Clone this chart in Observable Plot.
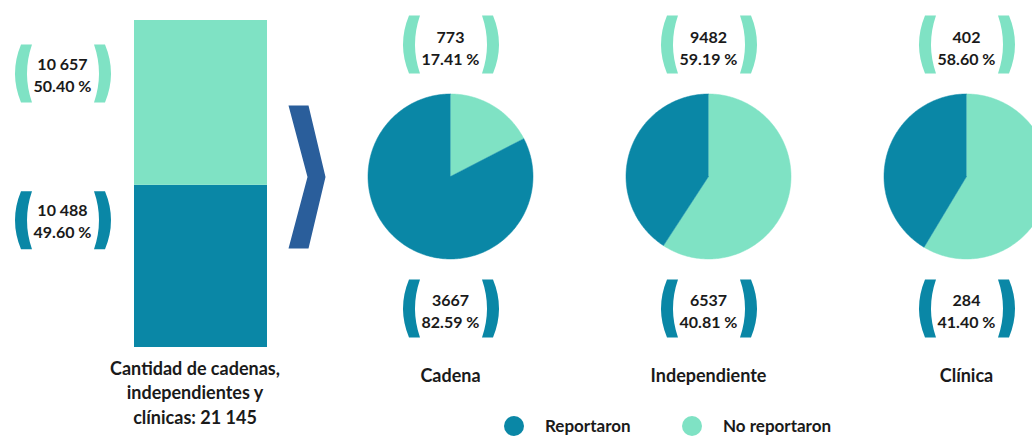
<!DOCTYPE html>
<html>
<head>
<meta charset="utf-8">
<script src="https://cdn.jsdelivr.net/npm/d3@7"></script>
<script src="https://cdn.jsdelivr.net/npm/@observablehq/plot@0.6"></script>
<style>
  html, body { margin: 0; padding: 0; background: #fff; }
  #chart { position: relative; width: 1032px; height: 436px; overflow: hidden; font-family: Lato, "Open Sans", sans-serif; }
  #bar, #pies, #legend { position: absolute; top: 0; }
  #bar { left: 0; width: 340px; }
  #pies { left: 321px; width: 774px; }
  #chart svg { max-width: none !important; }
  #legend { top: 415px; left: 0; width: 1032px; height: 21px; }
  .item { position: absolute; top: 0; height: 21px; display: flex; align-items: center; font-weight: 700; font-size: 17px; color: #1a1a1a; }
  .sw { width: 20px; height: 20px; border-radius: 50%; margin-right: 21px; }
</style>
</head>
<body>
<div id="chart">
  <div id="bar"></div>
  <div id="pies"></div>
  <div id="legend"></div>
</div>
<script>
// ---- data ----
const statuses = ["Reportaron", "No reportaron"];
const colors = ["#0A87A6", "#7FE2C4"];
const groups = ["Cadena", "Independiente", "Clínica"];
const reportaron = [3667, 6537, 284];
const noReportaron = [773, 9482, 402];
const pctReportaron = ["82.59 %", "40.81 %", "41.40 %"];
const pctNoReportaron = ["17.41 %", "59.19 %", "58.60 %"];
const totals = [10488, 10657];            // Reportaron, No reportaron
const totalLabels = ["10 488", "10 657"];
const totalPct = ["49.60 %", "50.40 %"];
const barTitle = "Cantidad de cadenas,\nindependientes y\nclínicas: 21 145";

// ---- layout / style constants ----
const FONT = "Lato, 'Open Sans', sans-serif";
const TEXT = "#1a1a1a";
const CHEVRON = "#2A5E9B";
const R = 82.5;            // pie radius (px)
const FACET_W = 258;       // facet width (px)
const BL = -39, BR = 40;   // bracket offsets from label centre

// custom symbols
const bracketL = { draw(ctx) {
  ctx.moveTo(-2.5, -29);
  ctx.quadraticCurveTo(-14.5, 0, -2.5, 29);
  ctx.lineTo(8.5, 29);
  ctx.quadraticCurveTo(-1.5, 0, 8.5, -29);
  ctx.closePath();
}};
const bracketR = { draw(ctx) {
  ctx.moveTo(2.5, -29);
  ctx.quadraticCurveTo(14.5, 0, 2.5, 29);
  ctx.lineTo(-8.5, 29);
  ctx.quadraticCurveTo(1.5, 0, -8.5, -29);
  ctx.closePath();
}};
const chevron = { draw(ctx) {
  ctx.moveTo(-18.5, -71.5);
  ctx.lineTo(1.5, -71.5);
  ctx.lineTo(18.5, 0);
  ctx.lineTo(1.5, 71.5);
  ctx.lineTo(-18.5, 71.5);
  ctx.lineTo(0.5, 0);
  ctx.closePath();
}};

const color = { domain: statuses, range: colors };
const total = d3.sum(totals);
const tops = d3.cumsum(totals);

// ---- stacked bar ----
const barRows = statuses.map((s, i) => ({
  cat: barTitle, status: s, value: totals[i], top: tops[i],
  label: totalLabels[i] + "\n" + totalPct[i]
}));
const labelDy = { "Reportaron": 35, "No reportaron": 53 };
const LABEL_DX = -138.5;

const barMarks = [
  Plot.barY(barRows, { x: "cat", y: "value", fill: "status" }),
  ...barRows.flatMap(r => [
    Plot.text([r], { x: "cat", y: "top", dx: LABEL_DX, dy: labelDy[r.status], text: "label",
      fill: TEXT, fontWeight: 700, fontSize: 16, lineHeight: 1.375 }),
    Plot.dot([r], { x: "cat", y: "top", dx: LABEL_DX + BL, dy: labelDy[r.status], symbol: bracketL, fill: "status", stroke: "none" }),
    Plot.dot([r], { x: "cat", y: "top", dx: LABEL_DX + BR, dy: labelDy[r.status], symbol: bracketR, fill: "status", stroke: "none" })
  ]),
  Plot.text([barTitle], { x: d => d, y: () => 0, dx: -6, dy: 10, lineAnchor: "top", text: d => d,
    fill: TEXT, fontWeight: 700, fontSize: 18, lineHeight: 1.36 }),
  Plot.dot([barTitle], { x: d => d, y: () => total / 2, dx: 106, dy: -7, symbol: chevron, fill: CHEVRON, stroke: "none" })
];

const barPlot = Plot.plot({
  width: 340, height: 436, margin: 0,
  style: { background: "transparent", fontFamily: FONT, overflow: "visible", maxWidth: "none" },
  x: { domain: [barTitle], range: [134, 267], padding: 0, axis: null },
  y: { domain: [0, total], range: [347, 20], axis: null },
  color,
  marks: barMarks
});
document.getElementById("bar").append(barPlot);

// ---- pies ----
const pieRows = [];
groups.forEach((g, gi) => {
  const vals = [
    { status: "No reportaron", value: noReportaron[gi] },
    { status: "Reportaron", value: reportaron[gi] }
  ];
  const arcs = d3.pie().sort(null).value(d => d.value)(vals);
  arcs.forEach(a => {
    const key = g + "|" + a.data.status;
    pieRows.push({ group: g, status: a.data.status, key, x: 0, y: 0 });
    const n = Math.max(2, Math.ceil((a.endAngle - a.startAngle) / (Math.PI / 180)));
    for (let k = 0; k <= n; k++) {
      const t = a.startAngle + (a.endAngle - a.startAngle) * k / n;
      pieRows.push({ group: g, status: a.data.status, key, x: Math.sin(t), y: Math.cos(t) });
    }
  });
});

const topRows = groups.map((g, i) => ({ group: g, status: "No reportaron", text: noReportaron[i] + "\n" + pctNoReportaron[i] }));
const botRows = groups.map((g, i) => ({ group: g, status: "Reportaron", text: reportaron[i] + "\n" + pctReportaron[i] }));
const catRows = groups.map(g => ({ group: g }));

const labelOpts = { fill: TEXT, fontWeight: 700, fontSize: 16, lineHeight: 1.375 };

const piePlot = Plot.plot({
  width: FACET_W * groups.length, height: 436, margin: 0,
  style: { background: "transparent", fontFamily: FONT, overflow: "visible", maxWidth: "none" },
  fx: { domain: groups, padding: 0, axis: null, label: null },
  x: { domain: [-FACET_W / 2 / R, FACET_W / 2 / R], axis: null },
  y: { domain: [-260 / R, 176 / R], axis: null },
  color,
  marks: [
    Plot.line(pieRows, { fx: "group", x: "x", y: "y", z: "key", fill: "status", stroke: "status", strokeWidth: 0.5, curve: "linear" }),
    // top labels (No reportaron)
    Plot.text(topRows, { fx: "group", x: () => 0, y: () => 1, dy: -47.5, text: "text", ...labelOpts }),
    Plot.dot(topRows, { fx: "group", x: () => 0, y: () => 1, dx: BL, dy: -49.5, symbol: bracketL, fill: "status", stroke: "none" }),
    Plot.dot(topRows, { fx: "group", x: () => 0, y: () => 1, dx: BR, dy: -49.5, symbol: bracketR, fill: "status", stroke: "none" }),
    // bottom labels (Reportaron)
    Plot.text(botRows, { fx: "group", x: () => 0, y: () => -1, dy: 50.5, text: "text", ...labelOpts }),
    Plot.dot(botRows, { fx: "group", x: () => 0, y: () => -1, dx: BL, dy: 49.5, symbol: bracketL, fill: "status", stroke: "none" }),
    Plot.dot(botRows, { fx: "group", x: () => 0, y: () => -1, dx: BR, dy: 49.5, symbol: bracketR, fill: "status", stroke: "none" }),
    // category names
    Plot.text(catRows, { fx: "group", x: () => 0, y: () => -1, dy: 117.5, text: "group", fill: TEXT, fontWeight: 700, fontSize: 18 })
  ]
});
document.getElementById("pies").append(piePlot);

// ---- legend ----
const legendLeft = [504, 682];
const legend = document.getElementById("legend");
statuses.forEach((s, i) => {
  const item = document.createElement("div");
  item.className = "item";
  item.style.left = legendLeft[i] + "px";
  const sw = document.createElement("span");
  sw.className = "sw";
  sw.style.background = colors[i];
  const lab = document.createElement("span");
  lab.textContent = s;
  item.append(sw, lab);
  legend.append(item);
});
</script>
</body>
</html>
